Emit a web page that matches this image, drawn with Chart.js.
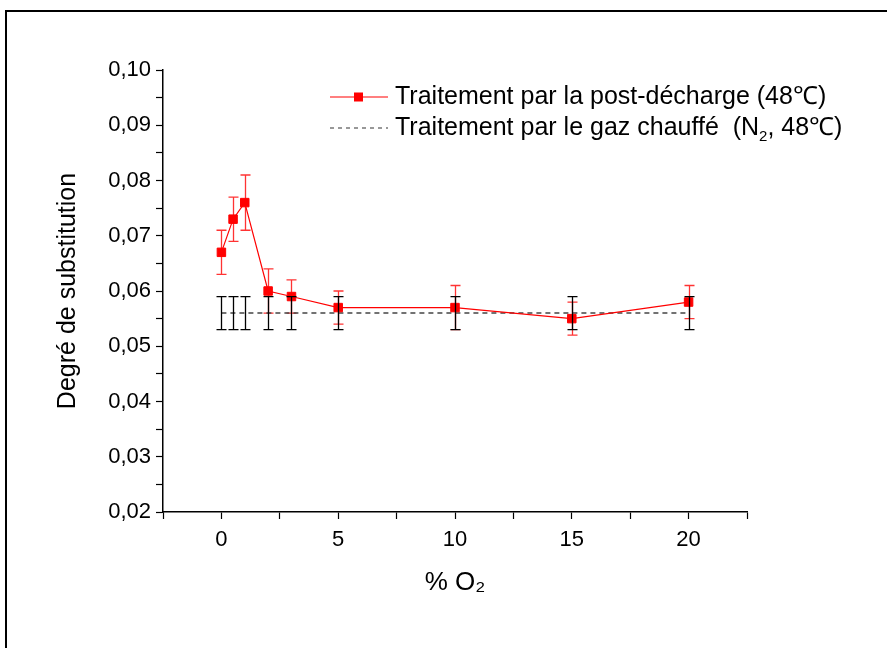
<!DOCTYPE html>
<html>
<head>
<meta charset="utf-8">
<script src="https://cdn.jsdelivr.net/npm/chart.js@4.4.1/dist/chart.umd.min.js"></script>
<style>
  html, body { margin: 0; padding: 0; background: #fff; }
  #wrap { position: relative; width: 887px; height: 648px; overflow: hidden; }
  #frame { position: absolute; left: 5px; top: 10px; right: -5px; bottom: -5px;
           border-left: 2px solid #000; border-top: 2px solid #000; pointer-events: none; }
  canvas { position: absolute; left: 0; top: 0; }
</style>
</head>
<body>
<div id="wrap">
  <canvas id="chart" width="887" height="648"></canvas>
  <div id="frame"></div>
</div>
<script>
// % O2 in the gas mixture
const o2 = [0, 0.5, 1, 2, 3, 5, 10, 15, 20];
// post-discharge treatment (red squares)
const postDecharge = [0.067, 0.073, 0.076, 0.060, 0.059, 0.057, 0.057, 0.055, 0.058];
const postDechargeErr = [0.004, 0.004, 0.005, 0.004, 0.003, 0.003, 0.004, 0.003, 0.003];
// heated gas reference (N2, 48 C), dashed
const gazChauffe = [0.056, 0.056, 0.056, 0.056, 0.056, 0.056, 0.056, 0.056, 0.056];
const gazChauffeErr = [0.003, 0.003, 0.003, 0.003, 0.003, 0.003, 0.003, 0.003, 0.003];

const xTicks = [0, 5, 10, 15, 20];
const yTicks = [0.02, 0.03, 0.04, 0.05, 0.06, 0.07, 0.08, 0.09, 0.10];

const FONT = "'Liberation Sans', Arial, sans-serif";

// vertical error bars drawn through the chart scales
function drawErrors(chart, ds, color) {
    const xs = chart.scales.x, ys = chart.scales.y;
    const ctx = chart.ctx;
    ctx.save();
    ctx.strokeStyle = color;
    ctx.lineWidth = 1.3;
    ds.data.forEach((p, i) => {
        const e = ds.errors[i];
        const px = Math.round(xs.getPixelForValue(p.x)) + 0.5;
        const top = ys.getPixelForValue(p.y + e);
        const bot = ys.getPixelForValue(p.y - e);
        ctx.beginPath();
        ctx.moveTo(px, top); ctx.lineTo(px, bot);
        ctx.moveTo(px - 5, top); ctx.lineTo(px + 5, top);
        ctx.moveTo(px - 5, bot); ctx.lineTo(px + 5, bot);
        ctx.stroke();
    });
    ctx.restore();
}

const errorBars = {
    id: 'errorBars',
    beforeDatasetsDraw(chart) {
        drawErrors(chart, chart.data.datasets[0], 'rgba(255,0,0,0.8)');
    },
    afterDatasetsDraw(chart) {
        drawErrors(chart, chart.data.datasets[1], '#000');
    }
};

// legend inside the plot, with subscript for N2
const legendBox = {
    id: 'legendBox',
    afterDraw(chart) {
        const ctx = chart.ctx;
        const fs = 25;
        ctx.save();
        ctx.textBaseline = 'middle';
        ctx.fillStyle = '#000';

        // entry 1
        let y = 97;
        ctx.strokeStyle = '#ff0000';
        ctx.lineWidth = 1.2;
        ctx.beginPath(); ctx.moveTo(330, y); ctx.lineTo(388, y); ctx.stroke();
        ctx.fillStyle = '#ff0000';
        ctx.fillRect(354, y - 4.5, 9, 9);
        ctx.fillStyle = '#000';
        ctx.font = fs + 'px ' + FONT;
        ctx.fillText(chart.data.datasets[0].label, 395, y);

        // entry 2
        y = 128;
        ctx.strokeStyle = '#333';
        ctx.setLineDash([4, 4]);
        ctx.beginPath(); ctx.moveTo(330, y); ctx.lineTo(388, y); ctx.stroke();
        ctx.setLineDash([]);
        let x = 395;
        const parts = ['Traitement par le gaz chauffé  (N', '2', ', 48℃)'];
        ctx.font = fs + 'px ' + FONT;
        ctx.fillText(parts[0], x, y);
        x += ctx.measureText(parts[0]).width;
        ctx.font = Math.round(fs * 0.6) + 'px ' + FONT;
        ctx.fillText(parts[1], x, y + 9);
        x += ctx.measureText(parts[1]).width;
        ctx.font = fs + 'px ' + FONT;
        ctx.fillText(parts[2], x, y);
        ctx.restore();
    }
};

new Chart(document.getElementById('chart'), {
    type: 'line',
    data: {
        datasets: [
            {
                label: 'Traitement par la post-décharge (48℃)',
                data: o2.map((x, i) => ({ x, y: postDecharge[i] })),
                errors: postDechargeErr,
                borderColor: '#ff0000',
                backgroundColor: '#ff0000',
                borderWidth: 1.2,
                pointStyle: 'rect',
                pointRadius: 6,
                pointBorderWidth: 1,
                tension: 0
            },
            {
                label: 'Traitement par le gaz chauffé (N2, 48℃)',
                data: o2.map((x, i) => ({ x, y: gazChauffe[i] })),
                errors: gazChauffeErr,
                borderColor: '#444',
                borderWidth: 1.5,
                borderDash: [5, 4],
                pointRadius: 0,
                tension: 0
            }
        ]
    },
    options: {
        responsive: false,
        animation: false,
        events: [],
        layout: { padding: { left: 0, top: 70, right: 140, bottom: 0 } },
        plugins: { legend: { display: false }, tooltip: { enabled: false } },
        scales: {
            x: {
                type: 'linear',
                min: -2.5, max: 22.5,
                afterFit(s) { s.height = 136; },
                border: { display: true, color: '#000', width: 1.5 },
                grid: { drawOnChartArea: false, drawTicks: true, tickLength: 7, tickColor: '#000', tickWidth: 1.2 },
                ticks: {
                    stepSize: 2.5, autoSkip: false, maxRotation: 0, padding: 8,
                    color: '#000', font: { family: FONT, size: 22 },
                    callback: v => xTicks.includes(v) ? String(v) : ''
                },
                title: { display: true, text: '% O₂', color: '#000', font: { family: FONT, size: 26 }, padding: { top: 0, bottom: 50 } }
            },
            y: {
                type: 'linear',
                min: 0.02, max: 0.10,
                afterFit(s) { s.width = 163; },
                border: { display: true, color: '#000', width: 1.5 },
                grid: { drawOnChartArea: false, drawTicks: true, tickLength: 7, tickColor: '#000', tickWidth: 1.2 },
                ticks: {
                    stepSize: 0.005, autoSkip: false, padding: 5,
                    color: '#000', font: { family: FONT, size: 22 },
                    callback: v => {
                        const t = yTicks.find(k => Math.abs(k - v) < 1e-6);
                        return t !== undefined ? t.toFixed(2).replace('.', ',') : '';
                    }
                },
                title: { display: true, text: 'Degré de substitution', color: '#000', font: { family: FONT, size: 25 }, padding: { top: 53, bottom: 0 } }
            }
        }
    },
    plugins: [errorBars, legendBox]
});
</script>
</body>
</html>
